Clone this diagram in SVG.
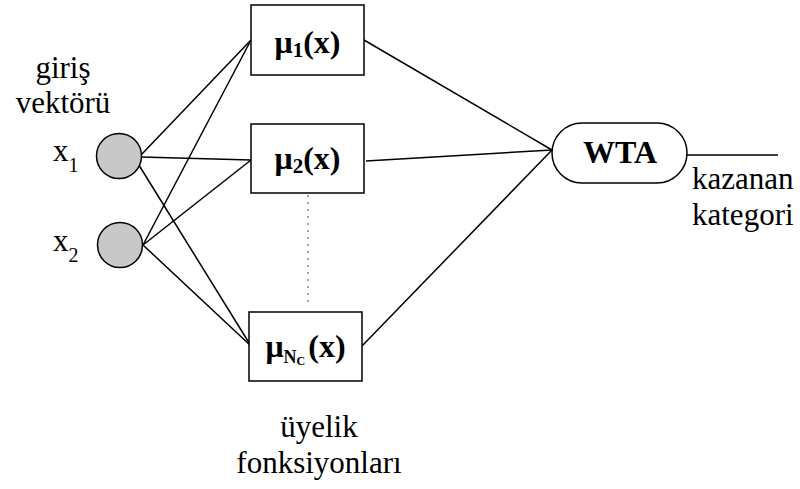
<svg xmlns="http://www.w3.org/2000/svg" width="800" height="489" viewBox="0 0 800 489">
<style>
.t{font-size:31px;fill:#000}
.b{font-size:32px;font-weight:bold;fill:#000}
.box{fill:#fff;stroke:#000;stroke-width:1.5}
.in{fill:#c8c8c8;stroke:#000;stroke-width:1.5}
.c line{stroke:#000;stroke-width:1.5}
</style>
<rect width="800" height="489" fill="#fff"/>
<g class="c" id="connectors">
<line x1="141" y1="155" x2="251" y2="40"/>
<line x1="141" y1="157" x2="251" y2="160"/>
<line x1="137" y1="162" x2="251" y2="346"/>
<line x1="143" y1="245" x2="251" y2="40"/>
<line x1="143" y1="245" x2="251" y2="160"/>
<line x1="143" y1="245" x2="251" y2="346"/>
<line x1="364" y1="40" x2="552" y2="150"/>
<line x1="366" y1="161" x2="552" y2="150"/>
<line x1="362" y1="346" x2="552" y2="150"/>
<line x1="687" y1="155" x2="778" y2="155"/>
<line x1="308" y1="195" x2="308" y2="306" style="stroke:#888;stroke-width:1.5;stroke-dasharray:2 5"/>
</g>
<g font-family="Liberation Serif, DejaVu Serif, serif">
<g id="label-input">
<text class="t" x="63" y="78" text-anchor="middle">giriş</text>
<text class="t" x="63" y="113" text-anchor="middle">vektörü</text>
</g>
<g id="x1">
<circle class="in" cx="119" cy="156" r="22.5"/>
<text class="t" x="53" y="161" font-size="29">x<tspan font-size="20" dy="11">1</tspan></text>
</g>
<g id="x2">
<circle class="in" cx="120" cy="245" r="22.5"/>
<text class="t" x="53" y="251" font-size="29">x<tspan font-size="20" dy="11">2</tspan></text>
</g>
<g id="mu1">
<rect class="box" x="251" y="5" width="113" height="70"/>
<text class="b" x="307.5" y="53" text-anchor="middle">μ<tspan font-size="21" dy="4">1</tspan><tspan dy="-4">(x)</tspan></text>
</g>
<g id="mu2">
<rect class="box" x="251" y="124" width="113" height="69"/>
<text class="b" x="307.5" y="169" text-anchor="middle">μ<tspan font-size="21" dy="4">2</tspan><tspan dy="-4">(x)</tspan></text>
</g>
<g id="muNc">
<rect class="box" x="249" y="312" width="113" height="69"/>
<text class="b" x="305.5" y="357" text-anchor="middle">μ<tspan font-size="18" dy="6">N</tspan><tspan font-size="12" dy="2">C</tspan><tspan dy="-8" dx="3">(x)</tspan></text>
</g>
<g id="wta">
<rect class="box" x="552" y="123" width="135" height="60" rx="30" ry="30"/>
<text class="b" x="620" y="163" text-anchor="middle" font-size="31">WTA</text>
</g>
<g id="label-output">
<text class="t" x="692" y="189">kazanan</text>
<text class="t" x="692" y="225">kategori</text>
</g>
<g id="label-mf">
<text class="t" x="319" y="437" text-anchor="middle">üyelik</text>
<text class="t" x="319" y="473" text-anchor="middle">fonksiyonları</text>
</g>
</g>
</svg>
